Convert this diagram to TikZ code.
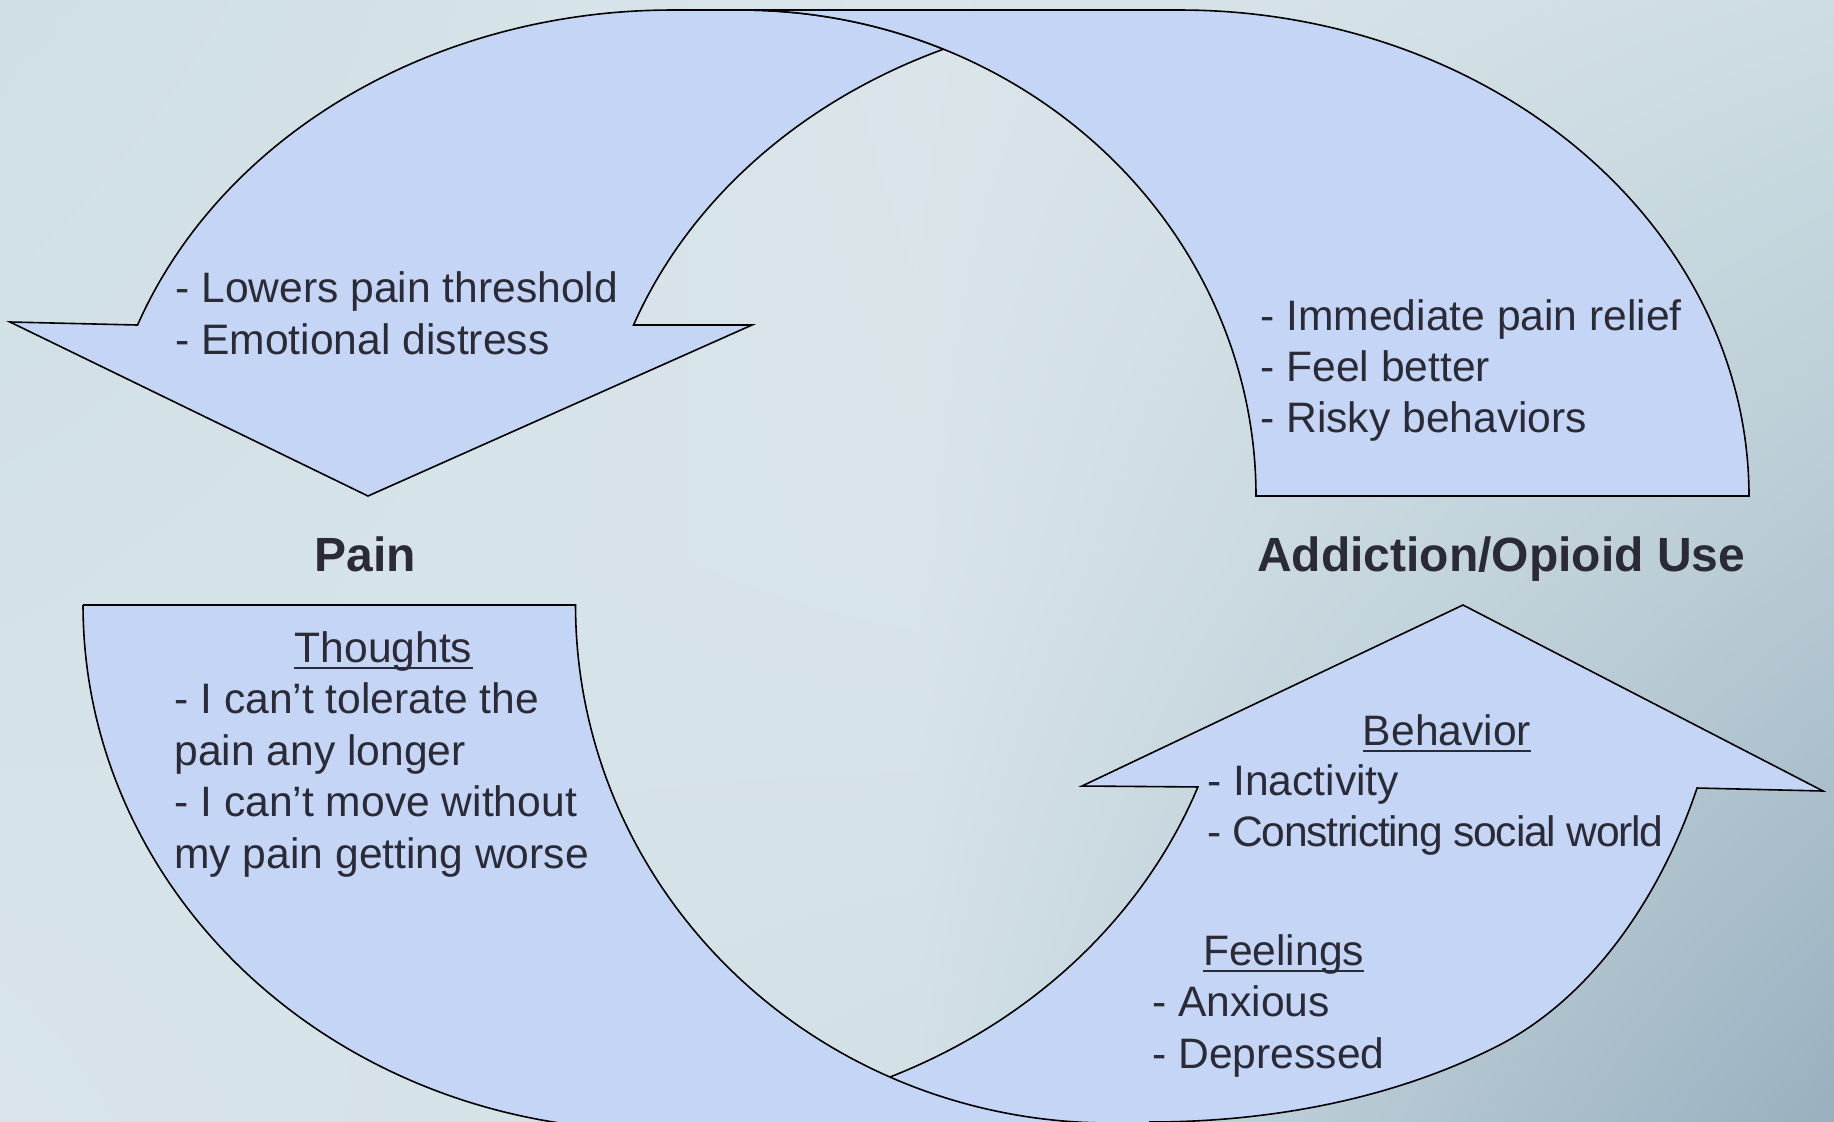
\documentclass[tikz,border=0pt]{standalone}
\usepackage{fontspec}
\setmainfont{Liberation Sans}
\usetikzlibrary{shadings}
\definecolor{shapefill}{HTML}{C5D5F5}
\definecolor{textcol}{HTML}{2B2B38}
\definecolor{bgA}{RGB}{207,223,229}
\definecolor{bgB}{RGB}{218,229,234}
\definecolor{bgC}{RGB}{206,221,227}
\definecolor{bgD}{RGB}{212,226,231}
\definecolor{bgE}{RGB}{216,228,233}
\definecolor{bgF}{RGB}{182,201,211}
\definecolor{bgG}{RGB}{216,228,233}
\definecolor{bgH}{RGB}{210,224,230}
\definecolor{bgI}{RGB}{152,176,191}
\begin{document}
\begin{tikzpicture}[x=0.5pt,y=-0.5pt,
  shp/.style={fill=shapefill, draw=black, line width=0.8pt, line join=miter},
  txt/.style={inner sep=0pt, anchor=base west, text=textcol, font=\fontsize{21.3}{25}\selectfont},
  ttl/.style={inner sep=0pt, anchor=base, text=textcol, font=\fontsize{24}{28}\selectfont\bfseries},
  ul/.style={draw=textcol, line width=1pt}]
\useasboundingbox (0,0) rectangle (1834,1121);
\clip (0,0) rectangle (1834,1121);
% background: 2x2 bilinear patches
\shade[upper left=bgA, upper right=bgB, lower left=bgD, lower right=bgE] (0,0) rectangle (917,560.5);
\shade[upper left=bgB, upper right=bgC, lower left=bgE, lower right=bgF] (917,0) rectangle (1834,560.5);
\shade[upper left=bgD, upper right=bgE, lower left=bgG, lower right=bgH] (0,560.5) rectangle (917,1121);
\shade[upper left=bgE, upper right=bgF, lower left=bgH, lower right=bgI] (917,560.5) rectangle (1834,1121);

% bottom arrow (with head), behind
\path[shp] (1463,605) -- (1823,791) -- (1697,788)
  .. controls (1662.2,892.4) and (1593.9,997.6) .. (1495.6,1047)
  .. controls (1390.1,1100) and (1268,1122) .. (1150,1122)
  -- (1150,1150) -- (890,1150) -- (890,1077)
  -- plot[domain=66.41:20.69, samples=70] ({660+575*cos(\x)},{605+515*sin(\x)})
  -- (1082,786) -- cycle;
% bottom flat-ended band, in front
\path[shp] (83,605) -- (575.5,605)
  -- plot[domain=180:90, samples=90] ({1110+534.5*cos(\x)},{605+518*sin(\x)})
  -- (1110,1150) -- (652,1150)
  -- plot[domain=90:180, samples=90] ({652+569*cos(\x)},{605+525*sin(\x)})
  -- cycle;

% top arrow (with head), behind
\path[shp] (10,322) -- (137.5,325)
  -- plot[domain=159.4:90, samples=80] ({672+571*cos(\x)},{496-486*sin(\x)})
  -- (741,10)
  -- plot[domain=90:66.85, samples=30] ({741+515*cos(\x)},{496-486*sin(\x)})
  -- plot[domain=113.15:159.4, samples=60] ({1168+571*cos(\x)},{496-486*sin(\x)})
  -- (752,325) -- (368,496) -- cycle;
% top flat-ended band, in front
\path[shp] (741,10) -- (1180,10)
  -- plot[domain=90:0, samples=90] ({1180+569*cos(\x)},{496-486*sin(\x)})
  -- (1256,496)
  -- plot[domain=0:90, samples=90] ({741+515*cos(\x)},{496-486*sin(\x)})
  -- cycle;

% texts
\node[txt] (tl1) at (175,302.5) {- Lowers pain threshold};
\node[txt] (tl2) at (175,354) {- Emotional distress};

\node[txt] (tr1) at (1260,330) {- Immediate pain relief};
\node[txt] (tr2) at (1260,381) {- Feel better};
\node[txt] (tr3) at (1260,432) {- Risky behaviors};

\node[ttl] (pain) at (365,571) {Pain};
\node[ttl] (addict) at (1501,571) {Addiction/Opioid Use};

\node[txt, anchor=base] (thoughts) at (383.5,662) {Thoughts};
\draw[ul] ([yshift=-3pt]thoughts.base west) -- ([yshift=-3pt]thoughts.base east);
\node[txt] (bl1) at (174,713.5) {- I can’t tolerate the};
\node[txt] (bl2) at (174,765) {pain any longer};
\node[txt] (bl3) at (174,816.5) {- I can’t move without};
\node[txt] (bl4) at (174,868) {my pain getting worse};

\node[txt, anchor=base] (behavior) at (1447,745) {Behavior};
\draw[ul] ([yshift=-3pt]behavior.base west) -- ([yshift=-3pt]behavior.base east);
\node[txt] (br1) at (1207,795) {- Inactivity};
\node[txt] (br2) at (1207,846) {\addfontfeatures{LetterSpace=-3}- Constricting social world};

\node[txt, anchor=base] (feelings) at (1283.5,965) {Feelings};
\draw[ul] ([yshift=-3pt]feelings.base west) -- ([yshift=-3pt]feelings.base east);
\node[txt] (br3) at (1152,1016.5) {- Anxious};
\node[txt] (br4) at (1152,1068) {- Depressed};
\end{tikzpicture}
\end{document}
